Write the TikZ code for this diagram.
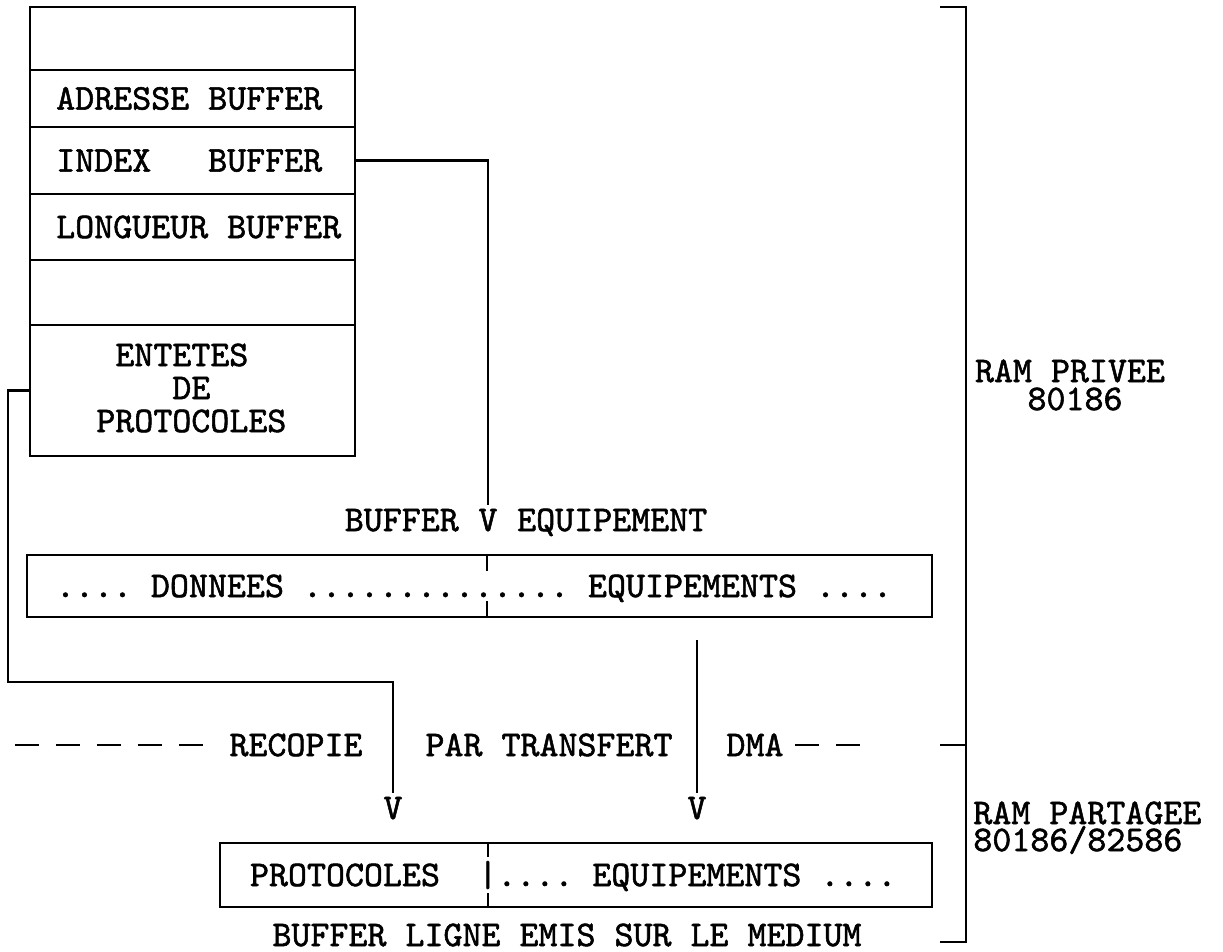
\documentclass[tikz,border=0pt]{standalone}
\usepackage{fontspec}
\newfontfamily\typew{lmmono10-regular}[Extension=.otf, FakeBold=1.5]
\usetikzlibrary{positioning}
\tikzset{
  wire/.style={line width=1.3pt},
  cell/.style={draw, wire, minimum width=6.5cm, inner sep=0pt},
  tw/.style={font=\typew\fontsize{20.6}{18}\selectfont, inner sep=0pt,
             text height=12.6pt, text depth=0pt},
}
\frenchspacing
\begin{document}
\begin{tikzpicture}[x=0.02cm, y=-0.02cm, every node/.style={tw}]
\useasboundingbox (0,0) rectangle (1223,952);

% pile des descripteurs
\node[cell, minimum height=1.26cm] (s1) at (192.5,38.5) {};
\node[cell, minimum height=1.14cm] (s2) at (192.5,98.5) {};
\node[cell, minimum height=1.34cm] (s3) at (192.5,160.5) {};
\node[cell, minimum height=1.32cm] (s4) at (192.5,227) {};
\node[cell, minimum height=1.30cm] (s5) at (192.5,292.5) {};
\node[cell, minimum height=2.62cm] (s6) at (192.5,390.5) {};

\node[anchor=west] (adr) at ([xshift=0.54cm]s2.west) {ADRESSE BUFFER};
\node[anchor=west] (idx) at ([xshift=0.54cm]s3.west) {INDEX~~~BUFFER};
\node[anchor=west] (lng) at ([xshift=0.54cm]s4.west) {LONGUEUR BUFFER};
\node[anchor=west] (ent1) at (96,355) {~ENTETES};
\node[anchor=west] (ent2) at (96,388) {~~~~DE};
\node[anchor=west] (ent3) at (96,421) {PROTOCOLES};

% buffer equipement
\node (vb) at (488,520) {V};
\node[left=0.38cm of vb] (bufl) {BUFFER};
\node[right=0.38cm of vb] (bufr) {EQUIPEMENT};
\draw[wire, shorten >=2pt] (s3.east) -| (vb.north);

\node[draw, wire, minimum width=18.1cm, minimum height=1.24cm] (data) at (479.5,586) {};
\node (datatxt) at (474,586) {.... DONNEES .............. EQUIPEMENTS ....};
\draw[wire] ([xshift=0.15cm]data.north) -- ++(0,17);
\draw[wire] ([xshift=0.15cm]data.south) -- ++(0,-17);

% recopie
\node (vl) at (393,808) {V};
\node (vr) at (697,808) {V};
\coordinate (hook) at (8,682);
\coordinate (dmatop) at (697,640);
\draw[wire, shorten >=2pt] (s6.west) -| (hook) -| (vl.north);
\draw[wire, shorten >=2pt] (dmatop) -- (vr.north);

\draw[wire, dash pattern=on 0.48cm off 0.34cm] (15,745) -- (205,745);
\node (recopie) at (296,745) {RECOPIE};
\node (par) at (549,745) {PAR TRANSFERT};
\node (dma) at (755,745) {DMA};
\draw[wire, dash pattern=on 0.48cm off 0.34cm] (795,745) -- (860,745);

% buffer ligne
\node[draw, wire, minimum width=14.24cm, minimum height=1.28cm] (ligne) at (576,875) {};
\node (proto) at (345,875) {PROTOCOLES};
\node[anchor=west] (equip) at (478,875) {|.... EQUIPEMENTS ....};
\draw[wire] ([xshift=-1.76cm]ligne.north) -- ++(0,15);
\draw[wire] ([xshift=-1.76cm]ligne.south) -- ++(0,-15);
\node (medium) at (567,935) {BUFFER LIGNE EMIS SUR LE MEDIUM};

% accolade memoire
\draw[wire] (940,7) -- (966,7) -- (966,942) -- (940,942);
\draw[wire] (940,745) -- (966,745);
\node (privee) at (1070,371) {RAM PRIVEE};
\node (privee2) at (1075,399) {80186};
\node[anchor=west] (part) at (973,813) {RAM PARTAGEE};
\node[anchor=west] (part2) at (973,840) {80186/82586};
\end{tikzpicture}
\end{document}
